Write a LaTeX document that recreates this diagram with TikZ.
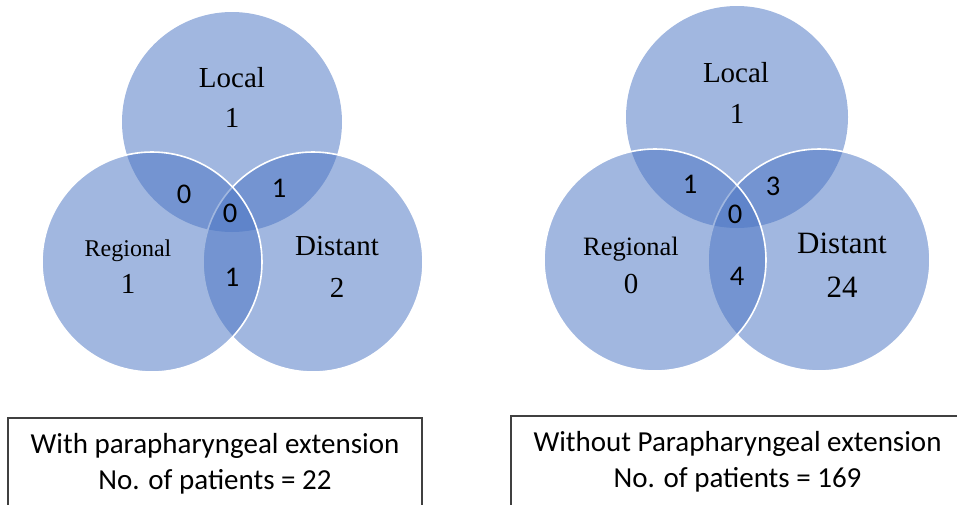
\documentclass[tikz,border=0pt]{standalone}
\usepackage{fontspec}
\setmainfont{Liberation Serif}
\newfontfamily\calfont{Carlito}
\usepackage{tikz}
\definecolor{vennblue}{RGB}{75,117,195}
\tikzset{
    setc/.style = {circle, inner sep=0pt, outer sep=0pt, minimum size=220pt, fill=vennblue, fill opacity=0.52, draw=none},
    rim/.style = {draw=white, draw opacity=1, line width=1.6pt},
    lab/.style = {anchor=base, inner sep=0pt, font=\fontsize{29}{33}\selectfont},
    small_lab/.style = {lab, font=\fontsize{24}{28}\selectfont},
    cnt/.style = {anchor=base, inner sep=0pt, font=\calfont\fontsize{28.5}{31}\selectfont},
    capbox/.style = {draw=black!75, line width=1.1pt, align=center, inner sep=0pt, font=\calfont\fontsize{29}{36}\selectfont}
}
\begin{document}
\begin{tikzpicture}[x=1pt, y=-1pt]
    \useasboundingbox (0,0) rectangle (957,504);
    \clip (0,0) rectangle (957,504);

    % with parapharyngeal extension
    \node [setc] (locA) at (232,122) {};
    \node [setc, rim] (disA) at (313,262) {};
    \node [setc, rim] (regA) at (152,262) {};

    \node [lab] (locAname) at (232,87) {Local};
    \node [lab] (locAnum) at (232,127) {1};
    \node [small_lab] (regAname) at (128,256) {Regional};
    \node [lab] (regAnum) at (128,293) {1};
    \node [lab] (disAname) at (337,255) {Distant};
    \node [lab] (disAnum) at (337,297) {2};
    \node [cnt] (lrA) at (184,203) {0};
    \node [cnt] (ldA) at (279,197) {1};
    \node [cnt] (allA) at (230,222) {0};
    \node [cnt] (rdA) at (232,286) {1};

    \node [capbox, minimum width=414pt, minimum height=92pt] (capA) at (215,464)
        {With parapharyngeal extension\\No. of patients = 22};

    % without parapharyngeal extension
    \node [setc, minimum size=222pt] (locB) at (737,117) {};
    \node [setc, rim, minimum size=222pt] (disB) at (819,260) {};
    \node [setc, rim, minimum size=222pt] (regB) at (655,260) {};

    \node [lab] (locBname) at (736,82) {Local};
    \node [lab] (locBnum) at (737,123) {1};
    \node [lab, font=\fontsize{26.5}{30}\selectfont] (regBname) at (631,255) {Regional};
    \node [lab] (regBnum) at (631,293) {0};
    \node [lab, font=\fontsize{31}{35}\selectfont] (disBname) at (842,253) {Distant};
    \node [lab, font=\fontsize{31}{35}\selectfont] (disBnum) at (842,297) {24};
    \node [cnt] (lrB) at (690,193) {1};
    \node [cnt] (ldB) at (773,195) {3};
    \node [cnt] (allB) at (735,223) {0};
    \node [cnt] (rdB) at (737,285) {4};

    \node [capbox, minimum width=453pt, minimum height=92pt] (capB) at (737.5,462)
        {Without Parapharyngeal extension\\No. of patients = 169};
\end{tikzpicture}
\end{document}
